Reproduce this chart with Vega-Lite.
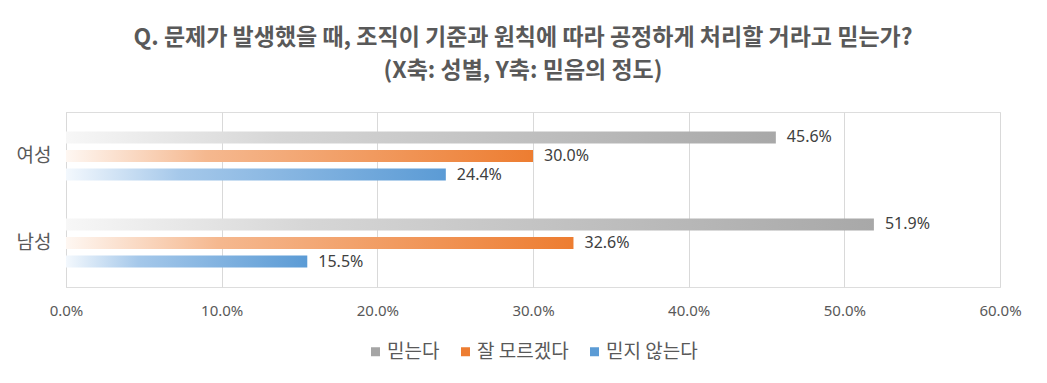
{
  "$schema": "https://vega.github.io/schema/vega-lite/v6.json",
  "width": 934,
  "height": 175,
  "autosize": {"type": "none"},
  "padding": {"left": 66, "top": 112, "right": 47, "bottom": 96},
  "background": "white",
  "title": {
    "text": ["Q. 문제가 발생했을 때, 조직이 기준과 원칙에 따라 공정하게 처리할 거라고 믿는가?", "(X축: 성별, Y축: 믿음의 정도)"],
    "font": "Noto Sans CJK KR",
    "fontSize": 23,
    "fontWeight": "bold",
    "color": "#595959",
    "lineHeight": 33,
    "anchor": "middle",
    "dx": -10,
    "offset": 29
  },
  "data": {
    "values": [
      {"gender": "여성", "series": "믿는다", "value": 0.456},
      {"gender": "여성", "series": "잘 모르겠다", "value": 0.300},
      {"gender": "여성", "series": "믿지 않는다", "value": 0.244},
      {"gender": "남성", "series": "믿는다", "value": 0.519},
      {"gender": "남성", "series": "잘 모르겠다", "value": 0.326},
      {"gender": "남성", "series": "믿지 않는다", "value": 0.155}
    ]
  },
  "encoding": {
    "y": {
      "field": "gender",
      "type": "nominal",
      "sort": ["여성", "남성"],
      "scale": {"domain": ["여성", "남성"], "paddingInner": 0.36, "paddingOuter": 0.186},
      "axis": {
        "title": null,
        "domain": true,
        "domainColor": "#d9d9d9",
        "ticks": false,
        "labelPadding": 15,
        "labelFont": "Noto Sans CJK KR",
        "labelFontSize": 19,
        "labelColor": "#595959"
      }
    },
    "yOffset": {
      "field": "series",
      "type": "nominal",
      "scale": {"domain": ["믿는다", "잘 모르겠다", "믿지 않는다"], "paddingInner": 0.35, "paddingOuter": 0.175}
    },
    "x": {
      "field": "value",
      "type": "quantitative",
      "scale": {"domain": [0, 0.6], "nice": false},
      "axis": {
        "title": null,
        "format": ".1%",
        "values": [0, 0.1, 0.2, 0.3, 0.4, 0.5, 0.6],
        "domain": false,
        "ticks": false,
        "grid": true,
        "gridColor": "#d9d9d9",
        "gridWidth": 1,
        "labelFlush": false,
        "labelPadding": 16,
        "labelFont": "Noto Sans",
        "labelFontSize": 15,
        "labelColor": "#595959"
      }
    }
  },
  "layer": [
    {
      "mark": {"type": "bar", "opacity": 0},
      "encoding": {
        "color": {
          "field": "series",
          "type": "nominal",
          "scale": {"domain": ["믿는다", "잘 모르겠다", "믿지 않는다"], "range": ["#a5a5a5", "#ed7d31", "#5b9bd5"]},
          "legend": {
            "title": null,
            "orient": "none",
            "legendX": 300,
            "legendY": 230,
            "direction": "horizontal",
            "symbolType": "square",
            "symbolSize": 81,
            "symbolOpacity": 1,
            "symbolStrokeWidth": 0,
            "labelFont": "Noto Sans CJK KR",
            "labelFontSize": 19,
            "labelColor": "#595959",
            "columnPadding": 16,
            "labelOffset": 2
          }
        }
      }
    },
    {
      "mark": {"type": "bar"},
      "encoding": {
        "color": {
          "condition": [
            {"test": "datum.series === '믿는다'", "value": {"gradient": "linear", "x1": 0, "x2": 1, "y1": 0, "y2": 0, "stops": [{"offset": 0, "color": "#f7f7f7"}, {"offset": 0.3, "color": "#d6d6d6"}, {"offset": 1, "color": "#a8a8a8"}]}},
            {"test": "datum.series === '잘 모르겠다'", "value": {"gradient": "linear", "x1": 0, "x2": 1, "y1": 0, "y2": 0, "stops": [{"offset": 0, "color": "#fef7f2"}, {"offset": 0.3, "color": "#f5b88f"}, {"offset": 1, "color": "#ed7d31"}]}}
          ],
          "value": {"gradient": "linear", "x1": 0, "x2": 1, "y1": 0, "y2": 0, "stops": [{"offset": 0, "color": "#f3f8fd"}, {"offset": 0.3, "color": "#a5c8ea"}, {"offset": 1, "color": "#5b9bd5"}]}
        }
      }
    },
    {
      "mark": {"type": "text", "align": "left", "baseline": "middle", "dx": 11, "font": "Noto Sans", "fontSize": 16, "color": "#404040"},
      "encoding": {
        "text": {"field": "value", "type": "quantitative", "format": ".1%"}
      }
    }
  ]
}
